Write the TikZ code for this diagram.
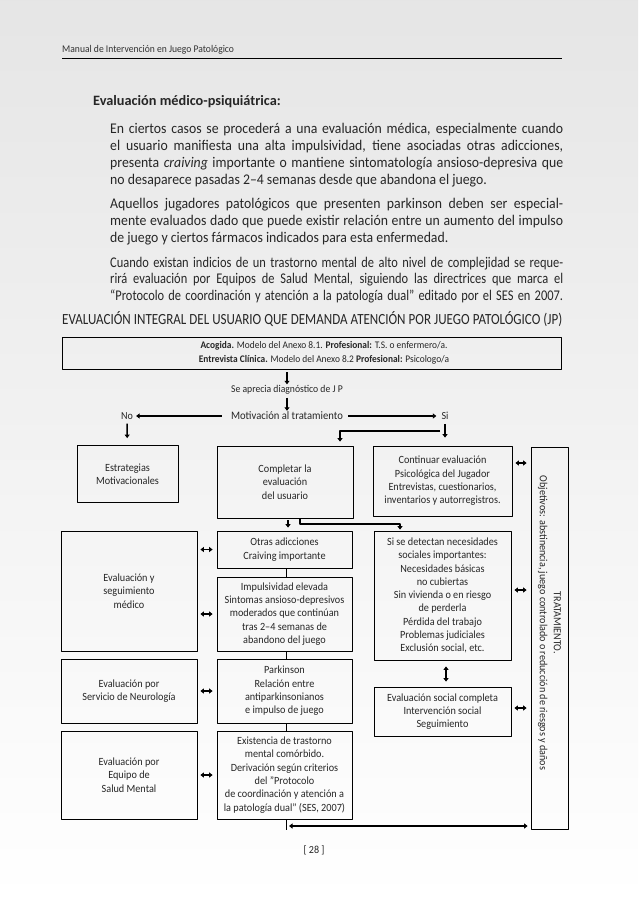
\documentclass[tikz,border=0pt]{standalone}
\usepackage{fontspec}
\setmainfont{Carlito}[FakeStretch=0.93]
\newfontfamily\ancha{Carlito}
\newfontfamily\estrecha{Carlito}[FakeStretch=0.84]
\usetikzlibrary{arrows.meta}
\newcommand\renglon[1]{\makebox[453pt][s]{#1}}

\begin{document}
\begin{tikzpicture}[x=1pt, y=-1pt, line join=round, >={Triangle[width=5pt,length=3.5pt]},
  caja/.style={draw, line width=0.8pt, align=center, inner sep=0pt, text=black!85, font=\fontsize{11}{13.3}\selectfont},
  rotulo/.style={inner sep=1pt, text=black!85, font=\fontsize{10.8}{13}\selectfont},
  parrafo/.style={anchor=base west, inner sep=0pt, text width=453pt, align=justify, text=black!85, font=\fontsize{14.8}{16.7}\selectfont},
  flecha/.style={line width=1.6pt, ->},
  dflecha/.style={line width=1.6pt, <->},
  linea/.style={line width=0.8pt}]
\useasboundingbox (0,0) rectangle (638,901);
\shade[top color=black!10, bottom color=white] (0,0) rectangle (638,901);

\node[anchor=base west, inner sep=0pt, text=black!80, font=\fontsize{10.3}{12}\selectfont] (cabecera) at (62,53) {Manual de Intervención en Juego Patológico};
\draw[line width=0.9pt] (62,58) -- (562,58);

\node[anchor=base west, inner sep=0pt, text=black!85, font=\ancha\fontsize{14.3}{16.7}\selectfont\bfseries] (apartado) at (93,106) {Evaluación médico-psiquiátrica:};
\node[parrafo] (parr1) at (110,134) {\renglon{En ciertos casos se procederá a una evaluación médica, especialmente cuando}\\
  \renglon{el usuario manifiesta una alta impulsividad, tiene asociadas otras adicciones,}\\
  \renglon{presenta \emph{craiving} importante o mantiene sintomatología ansioso-depresiva que}\\
  no desaparece pasadas 2–4 semanas desde que abandona el juego.};
\node[parrafo] (parr2) at (110,209) {\renglon{Aquellos jugadores patológicos que presenten parkinson deben ser especial-}\\
  \renglon{mente evaluados dado que puede existir relación entre un aumento del impulso}\\
  de juego y ciertos fármacos indicados para esta enfermedad.};
\node[parrafo, font=\estrecha\fontsize{14.8}{16.7}\selectfont] (parr3) at (110,267) {\renglon{Cuando existan indicios de un trastorno mental de alto nivel de complejidad se reque-}\\
  \renglon{rirá evaluación por Equipos de Salud Mental, siguiendo las directrices que marca el}\\
  \renglon{“Protocolo de coordinación y atención a la patología dual” editado por el SES en 2007.}};

\node[anchor=base west, inner sep=0pt, text=black!85, font=\estrecha\fontsize{15.5}{17}\selectfont] (titulo) at (62,324.5) {\makebox[500pt][s]{EVALUACIÓN INTEGRAL DEL USUARIO QUE DEMANDA ATENCIÓN POR JUEGO PATOLÓGICO (JP)}};

\node[caja, minimum width=499pt, minimum height=32pt] (acogida) at (311.5,353) {};
\node[rotulo, align=center, font=\fontsize{10.1}{14}\selectfont] (acotxt) at (324,353) {\textbf{Acogida.} Modelo del Anexo 8.1. \textbf{Profesional:} T.S. o enfermero/a.\\\textbf{Entrevista Clínica.} Modelo del Anexo 8.2 \textbf{Profesional:} Psicologo/a};
\node[rotulo, font=\fontsize{10.4}{12}\selectfont] (diag) at (287,390) {Se aprecia diagnóstico de J P};
\node[rotulo, font=\fontsize{11.4}{13}\selectfont] (motiv) at (287,416) {Motivación al tratamiento};
\node[rotulo] (no) at (127,416) {No};
\node[rotulo] (si) at (445,416) {Si};

\node[caja, minimum width=101pt, minimum height=57pt] (estrat) at (127.5,474) {Estrategias\\Motivacionales};
\node[caja, minimum width=136pt, minimum height=72pt] (completar) at (285,482) {Completar la\\evaluación\\del usuario};
\node[caja, minimum width=139pt, minimum height=70pt] (continuar) at (442.5,481) {Continuar evaluación\\Psicológica del Jugador\\Entrevistas, cuestionarios,\\inventarios y autorregistros.};

\node[caja, minimum width=136pt, minimum height=120pt] (evalmed) at (129,591) {Evaluación y\\seguimiento\\médico};
\node[caja, minimum width=136pt, minimum height=64pt] (neuro) at (129,691) {Evaluación por\\Servicio de Neurología};
\node[caja, minimum width=136pt, minimum height=88pt] (saludm) at (129,775) {Evaluación por\\Equipo de\\Salud Mental};

\node[caja, minimum width=135pt, minimum height=37pt] (otras) at (284.5,549.5) {Otras adicciones\\Craiving importante};
\node[caja, minimum width=135pt, minimum height=74pt] (impuls) at (284.5,614) {Impulsividad elevada\\Sintomas ansioso-depresivos\\moderados que continúan\\tras 2–4 semanas de\\abandono del juego};
\node[caja, minimum width=135pt, minimum height=64pt] (parkin) at (284.5,691) {Parkinson\\Relación entre\\antiparkinsonianos\\e impulso de juego};
\node[caja, minimum width=135pt, minimum height=88pt] (existe) at (284.5,775) {Existencia de trastorno\\mental comórbido.\\Derivación según criterios\\del ”Protocolo\\de coordinación y atención a\\la patología dual” (SES, 2007)};

\node[caja, minimum width=137pt, minimum height=129pt] (sisedet) at (442.5,595.5) {Si se detectan necesidades\\sociales importantes:\\Necesidades básicas\\no cubiertas\\Sin vivienda o en riesgo\\de perderla\\Pérdida del trabajo\\Problemas judiciales\\Exclusión social, etc.};
\node[caja, minimum width=137pt, minimum height=49pt] (evalsoc) at (442.5,711.5) {Evaluación social completa\\Intervención social\\Seguimiento};

\node[caja, minimum width=37pt, minimum height=382pt] (tratam) at (549.5,638) {};
\node[rotulo, rotate=-90, align=center, font=\fontsize{10.9}{14}\selectfont] (tratxt) at (549.5,623) {TRATAMIENTO.\\Objetivos: abstinencia, juego controlado o reducción de riesgos y daños};

\coordinate (codo1) at (440,431);
\coordinate (codo2) at (400,524);
\coordinate (pie) at (289,826);

\draw[flecha, shorten <=3pt] (acogida.south -| diag) -- (diag);
\draw[flecha, shorten <=2pt] (diag) -- (motiv);
\draw[flecha, shorten <=8pt, shorten >=2pt] (motiv) -- (no);
\draw[flecha, shorten <=4pt, shorten >=4pt] (motiv) -- (si);
\draw[flecha, shorten <=3pt, shorten >=7pt] (no) -- (estrat);
\draw[flecha, shorten <=3pt, shorten >=8pt] (si) -- (si |- continuar.north);
\draw[flecha, shorten >=4pt] (codo1) -| (completar.north -| 340,0);
\draw[flecha, shorten <=2pt, shorten >=3pt] (completar.south -| 288,0) -- (otras.north -| 288,0);
\draw[flecha, shorten >=1pt] (completar.south -| 300,0) |- (codo2) -- (sisedet.north -| codo2);

\draw[linea] (otras.south -| 286,0) -- (impuls.north -| 286,0);
\draw[linea] (impuls.south -| 286,0) -- (parkin.north -| 286,0);
\draw[linea] (parkin.south -| 286,0) -- (existe.north -| 286,0);
\draw[linea] (existe.south -| 286,0) -- ++(0,11);

\foreach \fila in {otras,impuls,parkin,existe}
  \draw[dflecha, shorten <=3pt, shorten >=4pt] (evalmed.east |- \fila.west) -- (\fila.west);
\draw[dflecha, shorten <=3pt, shorten >=4pt] (continuar.east |- 0,463) -- (tratam.west |- 0,463);
\draw[dflecha, shorten <=3pt, shorten >=4pt] (sisedet.east |- 0,590) -- (tratam.west |- 0,590);
\draw[dflecha, shorten <=3pt, shorten >=4pt] (evalsoc.east |- 0,708) -- (tratam.west |- 0,708);
\draw[dflecha, shorten <=6pt, shorten >=5pt] (sisedet.south -| 446,0) -- (evalsoc.north -| 446,0);
\draw[dflecha, shorten >=3pt] (pie) -- (tratam.west |- pie);

\node[rotulo] (pagina) at (314,850) {[ 28 ]};
\end{tikzpicture}
\end{document}
